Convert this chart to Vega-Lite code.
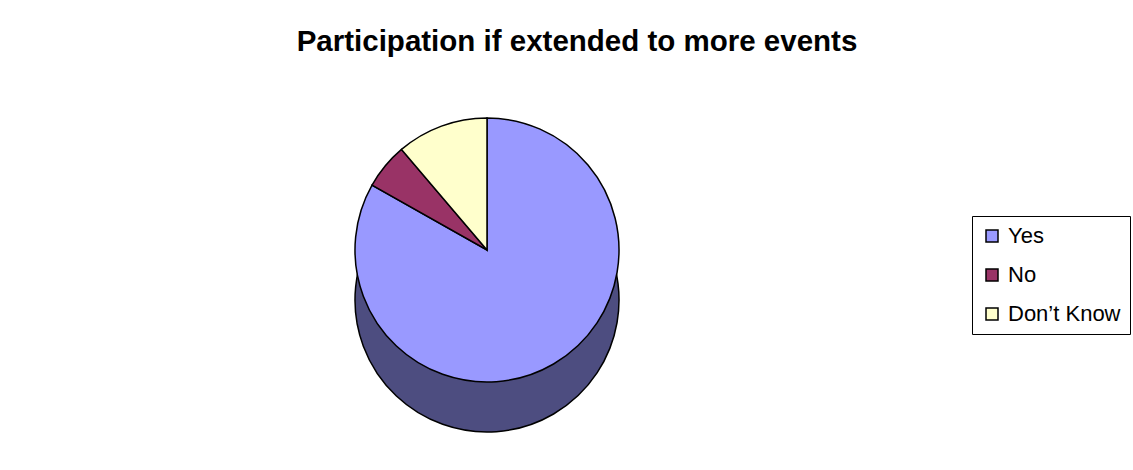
{
  "$schema": "https://vega.github.io/schema/vega-lite/v6.json",
  "autosize": {"type": "none"},
  "padding": {"left": 355, "top": 118, "right": 514, "bottom": 88},
  "width": 264,
  "height": 264,
  "background": "white",
  "title": {
    "text": "Participation if extended to more events",
    "font": "Liberation Sans",
    "fontSize": 29.5,
    "fontWeight": "bold",
    "color": "black",
    "anchor": "middle",
    "dx": 90,
    "offset": 58
  },
  "data": {
    "values": [
      {"answer": "Yes", "count": 89, "ord": 1},
      {"answer": "No", "count": 6, "ord": 2},
      {"answer": "Don’t Know", "count": 12, "ord": 3}
    ]
  },
  "layer": [
    {
      "mark": {"type": "arc", "yOffset": 50, "stroke": "black", "strokeWidth": 1.5, "color": "#4D4D80"},
      "encoding": {
        "theta": {"field": "count", "type": "quantitative", "stack": true},
        "order": {"field": "ord", "type": "quantitative"}
      }
    },
    {
      "mark": {"type": "arc", "stroke": "black", "strokeWidth": 1.5},
      "encoding": {
        "theta": {"field": "count", "type": "quantitative", "stack": true},
        "order": {"field": "ord", "type": "quantitative"},
        "color": {
          "field": "answer",
          "type": "nominal",
          "scale": {"domain": ["Yes", "No", "Don’t Know"], "range": ["#9999FF", "#993366", "#FFFFCC"]},
          "legend": {
            "title": null,
            "orient": "none",
            "legendX": 617,
            "legendY": 98,
            "symbolType": "square",
            "symbolSize": 144,
            "symbolStrokeColor": "black",
            "symbolStrokeWidth": 1.5,
            "labelFont": "Liberation Sans",
            "labelFontSize": 22,
            "labelColor": "black",
            "labelOffset": 5,
            "labelLimit": 300,
            "rowPadding": 17,
            "padding": 9,
            "strokeColor": "black",
            "fillColor": "white",
            "cornerRadius": 0
          }
        }
      }
    }
  ],
  "config": {"view": {"stroke": null}}
}
